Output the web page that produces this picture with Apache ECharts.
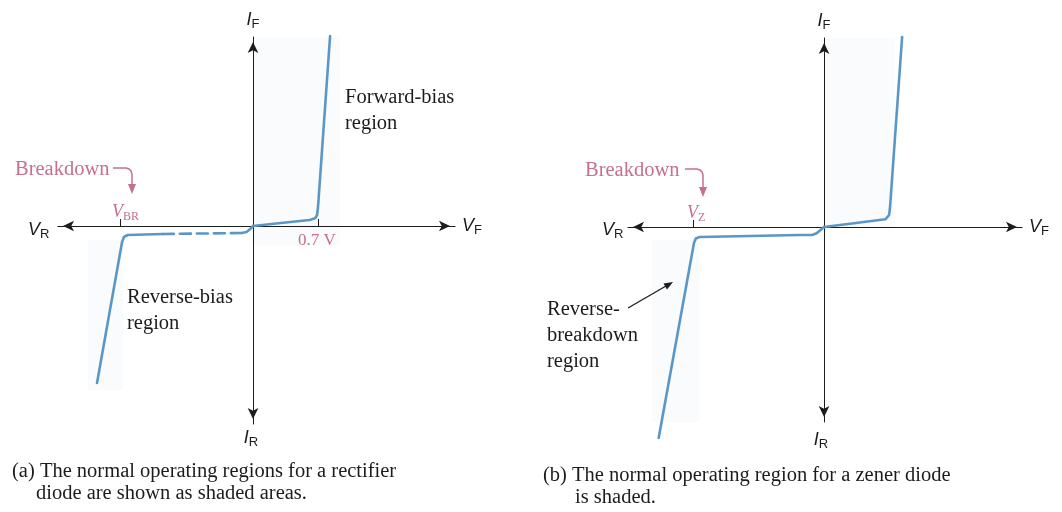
<!DOCTYPE html>
<html lang="en">
<head>
    <meta charset="UTF-8">
    <title>Diode characteristic curves</title>
    <style>
        html, body { margin: 0; padding: 0; background: #fff; }
        #app { width: 1062px; height: 512px; }
    </style>
    <script src="https://cdn.jsdelivr.net/npm/echarts@6/dist/echarts.min.js"></script>
</head>
<body>
    <div id="app"></div>
    <script>
        // ---- data (x in volts, y in arbitrary current units) ----
        // (a) rectifier diode
        var fwdA = [[0, 0], [0.3, 0.3], [0.61, 0.6], [0.67, 0.78], [0.69, 1.1], [0.70, 1.9], [0.83, 19.0]]
        var revNearA = [[0, 0], [-0.03, -0.3], [-0.07, -0.6], [-0.12, -0.7]]
        var leakA = [[-0.12, -0.7], [-0.97, -0.8]]           // dashed part
        var breakA = [[-0.97, -0.8], [-1.35, -0.9], [-1.39, -1.1], [-1.41, -1.6], [-1.68, -15.7]]
        var tickA = [-1.43, 0.7]
        var shadeA = [[0, -1.9, 0.94, 19.3], [-1.78, -1.4, -1.40, -16.4]]

        // (b) zener diode
        var fwdB = [[0, 0], [0.3, 0.35], [0.66, 0.77], [0.70, 1.2], [0.71, 2.0], [0.84, 19.0]]
        var revB = [[0, 0], [-0.08, -0.63], [-0.13, -0.8], [-0.26, -0.8], [-1.34, -1.0], [-1.38, -1.15], [-1.40, -1.6], [-1.78, -21.1]]
        var tickB = [-1.41]
        var shadeB = [[0, 0, 0.76, 19.4], [-1.85, -1.3, -1.34, -21.6]]

        var curveColor = '#5b97c6'
        var pink = '#c5708e'
        var ink = '#1c1c1c'
        var serif = '"Liberation Serif", "DejaVu Serif", serif'
        var sans = '"Liberation Sans", Arial, sans-serif'

        var mychart = echarts.init(document.getElementById('app'))

        // rich text for V_x / I_x style labels
        var axRich = {
            v: { fontFamily: sans, fontSize: 18, fontStyle: 'italic', color: ink, lineHeight: 22 },
            s: { fontFamily: sans, fontSize: 13, color: ink, lineHeight: 22, verticalAlign: 'bottom' }
        }

        function xAxisOf(idx, min, max, ticks) {
            return {
                type: 'value', gridIndex: idx, min: min, max: max, z: 3,
                name: '{v|V}{s|F}', nameLocation: 'end', nameGap: 7,
                nameTextStyle: { rich: axRich },
                axisLine: {
                    onZero: true, symbol: ['arrow', 'arrow'], symbolSize: [8, 11], symbolOffset: [5, -5],
                    lineStyle: { color: ink, width: 1.2 }
                },
                axisTick: { show: true, customValues: ticks, inside: true, length: 7, lineStyle: { color: ink } },
                axisLabel: { show: false },
                splitLine: { show: false }
            }
        }

        function yAxisOf(idx, min, max) {
            return {
                type: 'value', gridIndex: idx, min: min, max: max, z: 3,
                name: '{v|I}{s|F}', nameLocation: 'end', nameGap: 6,
                nameTextStyle: { rich: axRich },
                axisLine: {
                    onZero: true, symbol: ['arrow', 'arrow'], symbolSize: [8, 11], symbolOffset: [5, -5],
                    lineStyle: { color: ink, width: 1 }
                },
                axisTick: { show: false },
                axisLabel: { show: false },
                splitLine: { show: false }
            }
        }

        function curve(idx, data, dashed) {
            return {
                type: 'line', xAxisIndex: idx, yAxisIndex: idx, data: data,
                symbol: 'none', clip: false, silent: true, z: 5,
                lineStyle: { color: curveColor, width: 2.6, type: dashed ? [11, 6] : 'solid', cap: 'round', join: 'round' }
            }
        }

        // faint shaded operating regions, kept under the axes
        function shading(idx, shade) {
            return {
                type: 'line', xAxisIndex: idx, yAxisIndex: idx, data: [], z: 1, silent: true,
                markArea: {
                    silent: true,
                    itemStyle: { color: '#fafbfc' },
                    data: shade.map(function (r) { return [{ coord: [r[0], r[1]] }, { coord: [r[2], r[3]] }] })
                }
            }
        }

        function txt(x, y, text, opts) {
            opts = opts || {}
            return {
                type: 'text', x: x, y: y, silent: true, z: 10,
                style: Object.assign({
                    text: text, font: '20.5px ' + serif, fill: ink,
                    align: 'left', verticalAlign: 'middle'
                }, opts)
            }
        }

        function subLabel(x, y, main, sub, color, align) {
            return {
                type: 'text', x: x, y: y, silent: true, z: 10,
                style: {
                    text: '{v|' + main + '}{s|' + sub + '}', align: align || 'left', verticalAlign: 'middle',
                    rich: {
                        v: { fontFamily: sans, fontSize: 18, fontStyle: 'italic', fill: color || ink, lineHeight: 22 },
                        s: { fontFamily: sans, fontSize: 13, fill: color || ink, lineHeight: 22, verticalAlign: 'bottom' }
                    }
                }
            }
        }

        function serifSub(x, y, main, sub) {
            return {
                type: 'text', x: x, y: y, silent: true, z: 10,
                style: {
                    text: '{v|' + main + '}{s|' + sub + '}', align: 'left', verticalAlign: 'middle',
                    rich: {
                        v: { fontFamily: serif, fontSize: 18, fontStyle: 'italic', fill: pink, lineHeight: 22 },
                        s: { fontFamily: serif, fontSize: 12, fill: pink, lineHeight: 22, verticalAlign: 'bottom' }
                    }
                }
            }
        }

        // little hooked arrow under "Breakdown"
        function hook(x0, y0, x1, y1) {
            return [
                {
                    type: 'polyline', silent: true, z: 10,
                    shape: { points: [[x0, y0], [x1 - 6, y0], [x1 - 3, y0 + 1], [x1 - 1, y0 + 3], [x1, y0 + 6], [x1, y1 - 8]] },
                    style: { stroke: pink, lineWidth: 1.5, fill: null }
                },
                {
                    type: 'polygon', silent: true, z: 10,
                    shape: { points: [[x1 - 4, y1 - 10], [x1 + 4, y1 - 10], [x1, y1]] },
                    style: { fill: pink }
                }
            ]
        }

        var graphics = [
            subLabel(28, 230, 'V', 'R'),
            subLabel(251, 438, 'I', 'R', ink, 'center'),
            subLabel(602, 230, 'V', 'R'),
            subLabel(821, 440, 'I', 'R', ink, 'center'),

            txt(15, 170, 'Breakdown', { fill: pink }),
            serifSub(112, 212, 'V', 'BR'),
            txt(298, 241, '0.7 V', { fill: pink, font: '17px ' + serif }),
            txt(585, 171, 'Breakdown', { fill: pink }),
            serifSub(687, 213, 'V', 'Z'),

            txt(345, 98, 'Forward-bias'),
            txt(345, 124, 'region'),
            txt(127, 298, 'Reverse-bias'),
            txt(127, 324, 'region'),
            txt(547, 310, 'Reverse-'),
            txt(547, 336, 'breakdown'),
            txt(547, 362, 'region'),

            {
                type: 'line', silent: true, z: 10,
                shape: { x1: 628, y1: 308, x2: 666, y2: 286 },
                style: { stroke: ink, lineWidth: 1.3 }
            },
            {
                type: 'polygon', silent: true, z: 10,
                shape: { points: [[673, 282], [667, 289.5], [663.5, 283.5]] },
                style: { fill: ink }
            },

            txt(12, 472, '(a) The normal operating regions for a rectifier'),
            txt(36, 494, 'diode are shown as shaded areas.'),
            txt(543, 476, '(b) The normal operating region for a zener diode'),
            txt(575, 498, 'is shaded.')
        ].concat(hook(113, 168, 132, 194)).concat(hook(685, 169, 703, 197))

        var option = {
            animation: false,
            backgroundColor: '#fff',
            grid: [
                { left: 58, top: 37, width: 397, height: 387 },
                { left: 628, top: 38, width: 394, height: 384 }
            ],
            xAxis: [
                xAxisOf(0, -2.10, 2.175, tickA),
                xAxisOf(1, -2.11, 2.13, tickB)
            ],
            yAxis: [
                yAxisOf(0, -19.8, 18.9),
                yAxisOf(1, -19.5, 18.9)
            ],
            series: [
                shading(0, shadeA),
                shading(1, shadeB),
                curve(0, fwdA, false),
                curve(0, revNearA, false),
                curve(0, leakA, true),
                curve(0, breakA, false),
                curve(1, fwdB, false),
                curve(1, revB, false)
            ],
            graphic: graphics
        }
        mychart.setOption(option)
    </script>
</body>
</html>
